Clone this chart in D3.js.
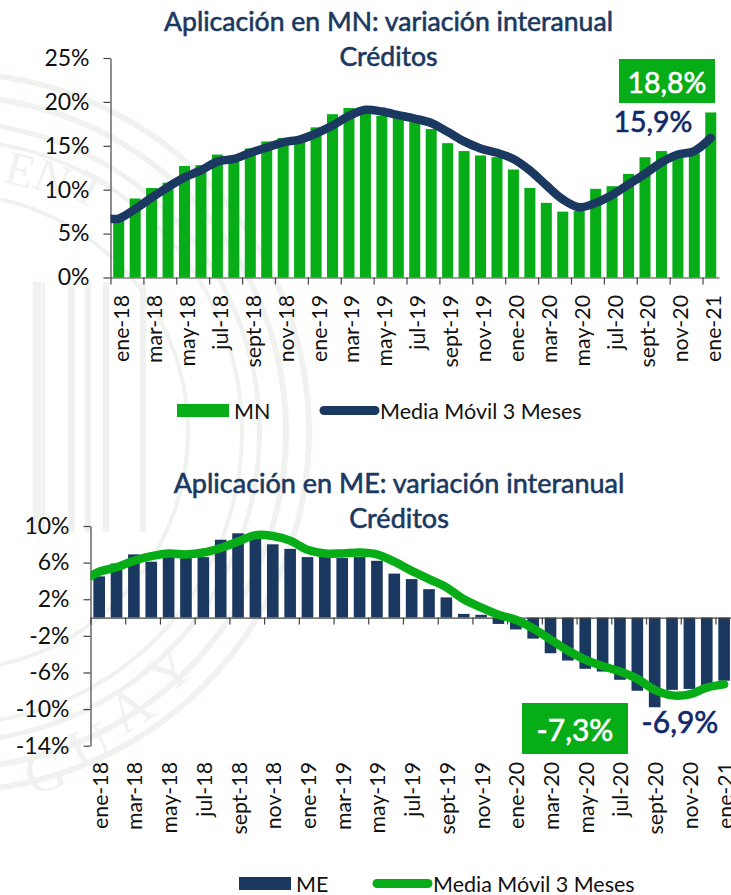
<!DOCTYPE html>
<html>
<head>
<meta charset="utf-8">
<title>Aplicación: variación interanual</title>
<script src="https://cdn.jsdelivr.net/npm/d3@7/dist/d3.min.js"></script>
<style>
  html, body { margin: 0; padding: 0; background: #fff; }
  svg { display: block; }
  text { font-family: Lato, "Open Sans", sans-serif; }
  .tick text { font-size: 23px; fill: #111; }
  .axis path, .axis line { stroke: #444; stroke-width: 1.2; shape-rendering: auto; }
</style>
</head>
<body>
<div id="chart"></div>
<script>
var months = ["ene-18","feb-18","mar-18","abr-18","may-18","jun-18","jul-18","ago-18","sept-18","oct-18","nov-18","dic-18",
  "ene-19","feb-19","mar-19","abr-19","may-19","jun-19","jul-19","ago-19","sept-19","oct-19","nov-19","dic-19",
  "ene-20","feb-20","mar-20","abr-20","may-20","jun-20","jul-20","ago-20","sept-20","oct-20","nov-20","dic-20",
  "ene-21"];

var mnBars = [6.5,9.0,10.2,10.8,12.7,12.8,14.0,13.2,14.7,15.5,15.9,15.6,
  17.1,18.6,19.3,18.8,18.4,18.3,17.7,16.9,15.3,14.4,13.9,13.7,
  12.3,10.2,8.5,7.5,7.6,10.1,10.4,11.8,13.7,14.4,13.9,14.1,18.8];
var mnAvg = [6.7,7.8,9.1,10.3,11.4,12.2,13.2,13.5,14.2,14.8,15.4,15.7,
  16.4,17.3,18.4,19.1,18.9,18.5,18.1,17.6,16.6,15.5,14.7,14.2,
  13.5,12.2,10.5,8.9,8.0,8.5,9.4,10.6,11.8,13.1,14.0,14.4,15.9];
var mnAvgStart = 6.7;
var mnTicks = [0,5,10,15,20,25];

var meBars = [4.5,5.9,6.9,6.1,6.9,6.5,6.6,8.5,9.2,9.0,8.0,7.5,
  6.6,6.7,6.5,6.6,6.2,4.8,4.2,3.1,2.2,0.4,0.3,-0.7,
  -1.3,-2.3,-3.9,-4.7,-5.6,-5.9,-6.8,-8.0,-9.8,-7.9,-7.8,-7.8,-6.9];
var meAvg = [5.0,5.5,6.2,6.7,7.0,6.9,7.1,7.6,8.3,9.0,8.9,8.4,
  7.4,7.0,7.0,7.1,6.9,6.1,5.1,4.2,3.3,2.0,1.1,0.3,
  -0.25,-1.2,-2.4,-3.6,-4.6,-5.3,-5.9,-6.7,-7.9,-8.5,-8.4,-7.65,-7.3];
var meAvgStart = 4.5;
var meTicks = [10,6,2,-2,-6,-10,-14];

var green = "#07ad17", navy = "#1a3860", labelNavy = "#10296a";

var svg = d3.select("#chart").append("svg")
    .attr("width", 731)
    .attr("height", 895);

svg.append("rect").attr("width", 731).attr("height", 895).attr("fill", "#fff");

// faint seal behind the charts
var seal = svg.append("g")
    .attr("transform", "translate(-50,432)")
    .attr("fill", "#f0f2f0");
var rings = [[356,362],[333,339],[307,312],[290,294],[236,240]];
// letter, radius, degrees clockwise from straight up
var sealLetters = [["E",271,15],["N",273,22],["T",280,30],
  ["G",353,164.4],["U",344,156],["A",331,147],["Y",324,137.3]];
var sealColumns = [[83,8],[92,3],[118,7],[135,6],[153,6],[190,6]];

seal.selectAll("path.ring")
    .data(rings)
    .enter().append("path")
    .attr("class", "ring")
    .attr("d", function(d) {
	return d3.arc().innerRadius(d[0]).outerRadius(d[1]).startAngle(0).endAngle(2 * Math.PI)();
    });
seal.selectAll("text.letter")
    .data(sealLetters)
    .enter().append("text")
    .attr("class", "letter")
    .attr("transform", function(d) {
	var p = d3.pointRadial(d[2] * Math.PI / 180, d[1]);
	var turn = d[2] > 90 ? d[2] - 180 : d[2];
	return "translate(" + p[0] + "," + p[1] + ") rotate(" + turn + ")";
    })
    .attr("text-anchor", "middle")
    .attr("dy", ".33em")
    .style("font-family", "'Liberation Serif', serif")
    .style("font-size", function(d) { return d[2] > 90 ? "56px" : "48px"; })
    .text(function(d) { return d[0]; });
seal.selectAll("rect.col")
    .data(sealColumns)
    .enter().append("rect")
    .attr("class", "col")
    .attr("x", function(d) { return d[0]; })
    .attr("width", function(d) { return d[1]; })
    .attr("y", -150)
    .attr("height", 250);

function drawChart(o) {
    var x = d3.scaleBand().domain(months).range([o.x0, o.x1]).paddingInner(0.33).paddingOuter(0.165);
    var xTick = d3.scaleLinear().domain([0, months.length]).range([o.x0, o.x1]);
    var y = d3.scaleLinear().domain(o.domain).range([o.y0, o.y1]);
    var labelled = months.filter(function(m, i) { return i % 2 == 0; });

    svg.selectAll(".bar" + o.key)
	.data(o.bars)
	.enter().append("rect")
	.attr("class", "bar" + o.key)
	.attr("x", function(d, i) { return x(months[i]); })
	.attr("width", x.bandwidth())
	.attr("y", function(d) { return y(Math.max(d, 0)); })
	.attr("height", function(d) { return Math.abs(y(d) - y(0)); })
	.attr("fill", o.barColor);

    svg.append("g")
	.attr("class", "axis")
	.attr("transform", "translate(" + o.x0 + ",0)")
	.call(d3.axisLeft(y).tickValues(o.ticks).tickSize(7).tickSizeOuter(0).tickPadding(14)
	      .tickFormat(function(d) { return d + "%"; }));

    var xAxis = svg.append("g")
	.attr("class", "axis")
	.attr("transform", "translate(0," + y(0) + ")")
	.call(d3.axisBottom(xTick).tickValues(d3.range(0, months.length, 2)).tickSize(7).tickSizeOuter(0)
	      .tickFormat(""));
    xAxis.selectAll(".tick text").remove();

    svg.selectAll(".xlabel" + o.key)
	.data(labelled)
	.enter().append("text")
	.attr("class", "xlabel" + o.key)
	.attr("transform", function(d) {
	    return "translate(" + (x(d) + x.bandwidth() / 2 + o.labelDx) + "," + o.labelY + ") rotate(-90)";
	})
	.attr("text-anchor", "end")
	.attr("dy", ".35em")
	.attr("font-size", 21.3)
	.attr("fill", "#111")
	.text(function(d) { return d; });

    // the drawn line runs back to the axis before its first month
    var pts = [{p: 0, v: o.avgStart}].concat(o.avg.map(function(v, i) { return {p: i + 0.5, v: v}; }));
    var line = d3.line()
	.curve(d3.curveCatmullRom.alpha(0.5))
	.x(function(d) { return xTick(d.p); })
	.y(function(d) { return y(d.v); });

    svg.append("clipPath").attr("id", "clip" + o.key)
	.append("rect").attr("x", o.x0).attr("y", 0).attr("width", 731 - o.x0).attr("height", 895);

    svg.append("path")
	.datum(pts)
	.attr("d", line)
	.attr("clip-path", "url(#clip" + o.key + ")")
	.attr("fill", "none")
	.attr("stroke", o.lineColor)
	.attr("stroke-width", 8.5)
	.attr("stroke-linecap", "round")
	.attr("stroke-linejoin", "round");

    svg.selectAll(".title" + o.key)
	.data(o.title)
	.enter().append("text")
	.attr("class", "title" + o.key)
	.attr("x", o.titleX)
	.attr("y", function(d, i) { return o.titleY + i * o.titleGap; })
	.attr("text-anchor", "middle")
	.attr("font-size", o.titleSize)
	.attr("fill", navy)
	.attr("stroke", navy)
	.attr("stroke-width", 0.6)
	.text(function(d) { return d; });

    // legend
    svg.append("rect")
	.attr("x", o.legend.bar).attr("y", o.legend.y - 6.5).attr("width", 52).attr("height", 13)
	.attr("fill", o.barColor);
    svg.append("text")
	.attr("x", o.legend.bar + 57).attr("y", o.legend.y + 8)
	.attr("font-size", 21.5).attr("fill", "#111")
	.text(o.key);
    svg.append("line")
	.attr("x1", o.legend.line + 4).attr("x2", o.legend.line + 55)
	.attr("y1", o.legend.y).attr("y2", o.legend.y)
	.attr("stroke", o.lineColor).attr("stroke-width", 9).attr("stroke-linecap", "round");
    svg.append("text")
	.attr("x", o.legend.line + 60).attr("y", o.legend.y + 8)
	.attr("font-size", 21.5).attr("fill", "#111")
	.text("Media Móvil 3 Meses");

    // value callouts
    svg.append("rect")
	.attr("x", o.badge.x).attr("y", o.badge.y).attr("width", o.badge.w).attr("height", o.badge.h)
	.attr("fill", green);
    svg.append("text")
	.attr("x", o.badge.x + o.badge.w / 2).attr("y", o.badge.base)
	.attr("text-anchor", "middle").attr("font-size", o.calloutSize).attr("fill", "#fff")
	.attr("stroke", "#fff").attr("stroke-width", 0.6)
	.text(o.badge.text);
    svg.append("text")
	.attr("x", o.note.x).attr("y", o.note.base)
	.attr("text-anchor", "middle").attr("font-size", o.calloutSize).attr("fill", labelNavy)
	.attr("stroke", labelNavy).attr("stroke-width", 0.6)
	.text(o.note.text);
}

drawChart({
    key: "MN", bars: mnBars, avg: mnAvg, avgStart: mnAvgStart, ticks: mnTicks,
    domain: [0, 25], x0: 110.5, x1: 719, y0: 277.5, y1: 58,
    barColor: green, lineColor: navy, labelDx: 3, labelY: 295, calloutSize: 28.5,
    title: ["Aplicación en MN: variación interanual", "Créditos"], titleX: 388.5, titleY: 31, titleGap: 35, titleSize: 26.6,
    legend: {bar: 177, line: 320, y: 410.5},
    badge: {x: 619, y: 59, w: 96, h: 44, base: 93, text: "18,8%"},
    note: {x: 653, base: 132, text: "15,9%"}
});

drawChart({
    key: "ME", bars: meBars, avg: meAvg, avgStart: meAvgStart, ticks: meTicks,
    domain: [-14, 10], x0: 90.5, x1: 732.8, y0: 745.7, y1: 526,
    barColor: navy, lineColor: green, labelDx: 1, labelY: 762, calloutSize: 30,
    title: ["Aplicación en ME: variación interanual", "Créditos"], titleX: 399, titleY: 493, titleGap: 35, titleSize: 27,
    legend: {bar: 239, line: 373, y: 883.5},
    badge: {x: 522, y: 703, w: 106, h: 51, base: 741, text: "-7,3%"},
    note: {x: 680, base: 733, text: "-6,9%"}
});
</script>
</body>
</html>
